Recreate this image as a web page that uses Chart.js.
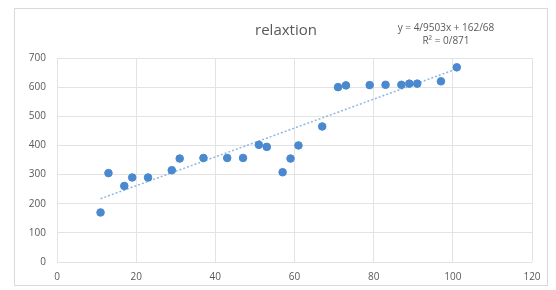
<!DOCTYPE html>
<html><head><meta charset="utf-8">
<script src="https://cdn.jsdelivr.net/npm/chart.js@4"></script>
<style>html,body{margin:0;padding:0;background:#fff}#wrap{width:556px;height:290px;position:relative}</style>
</head><body><div id="wrap"><canvas id="c" width="556" height="290"></canvas></div>
<script>
const titleText = "relaxtion";
const equationLines = ["y = 4/9503x + 162/68", "R\u00b2 = 0/871"];
const xValues = [11, 13, 17, 19, 23, 29, 31, 37, 43, 47, 51, 53, 57, 59, 61, 67, 71, 73, 79, 83, 87, 89, 91, 97, 101];
const yValues = [170, 305, 261, 290, 290, 315, 355, 357, 357, 357, 402, 395, 308, 355, 400, 465, 600, 606, 607, 608, 608, 612, 612, 620, 668];
const trendSlope = 4.9503;
const trendIntercept = 162.68;
const xTicks = [0, 20, 40, 60, 80, 100, 120];
const yTicks = [0, 100, 200, 300, 400, 500, 600, 700];

const points = xValues.map((x, i) => ({x: x, y: yValues[i]}));
const xMin = Math.min(...xValues), xMax = Math.max(...xValues);
const trend = [xMin, xMax].map(x => ({x: x, y: trendSlope * x + trendIntercept}));

const textPlugin = {
  id: 'texts',
  beforeDraw(chart) {
    const ctx = chart.ctx;
    ctx.save();
    ctx.fillStyle = '#fff';
    ctx.fillRect(0, 0, chart.width, chart.height);
    ctx.strokeStyle = '#d9d9d9';
    ctx.lineWidth = 1;
    ctx.strokeRect(14.5, 8.5, 533, 277);
    ctx.restore();
  },
  afterDraw(chart) {
    const ctx = chart.ctx;
    ctx.save();
    ctx.fillStyle = '#595959';
    ctx.textAlign = 'center';
    ctx.textBaseline = 'middle';
    ctx.font = '15px "Open Sans", sans-serif';
    ctx.fillText(titleText, 286, 31);
    ctx.font = '10px "Open Sans", sans-serif';
    ctx.fillText(equationLines[0], 446, 28);
    ctx.fillText(equationLines[1], 446, 41);
    ctx.restore();
  }
};

new Chart(document.getElementById('c'), {
  type: 'scatter',
  data: {
    datasets: [
      {
        data: points,
        backgroundColor: '#4a89d0',
        borderColor: '#4a89d0',
        pointRadius: 3.8,
        pointHoverRadius: 3.8,
        order: 1
      },
      {
        type: 'line',
        data: trend,
        borderColor: '#8fb8e3',
        borderWidth: 1.5,
        borderDash: [2, 2],
        pointRadius: 0,
        fill: false,
        order: 2
      }
    ]
  },
  options: {
    responsive: false,
    animation: false,
    events: [],
    layout: {padding: {left: 0, right: 24, top: 58, bottom: 0}},
    plugins: {legend: {display: false}, tooltip: {enabled: false}, title: {display: false}},
    scales: {
      x: {
        type: 'linear',
        min: 0, max: 120,
        afterBuildTicks(s) { s.ticks = xTicks.map(v => ({value: v})); },
        afterFit(s) { s.height = 28; },
        grid: {color: '#e3e3e3', drawTicks: false},
        border: {display: false},
        ticks: {color: '#595959', font: {family: '"Open Sans", sans-serif', size: 10}, padding: 9, maxRotation: 0}
      },
      y: {
        type: 'linear',
        min: 0, max: 700,
        afterBuildTicks(s) { s.ticks = yTicks.map(v => ({value: v})); },
        afterFit(s) { s.width = 57; },
        grid: {color: '#e3e3e3', drawTicks: false},
        border: {display: false},
        ticks: {color: '#595959', font: {family: '"Open Sans", sans-serif', size: 10}, padding: 11}
      }
    }
  },
  plugins: [textPlugin]
});
</script></body></html>
